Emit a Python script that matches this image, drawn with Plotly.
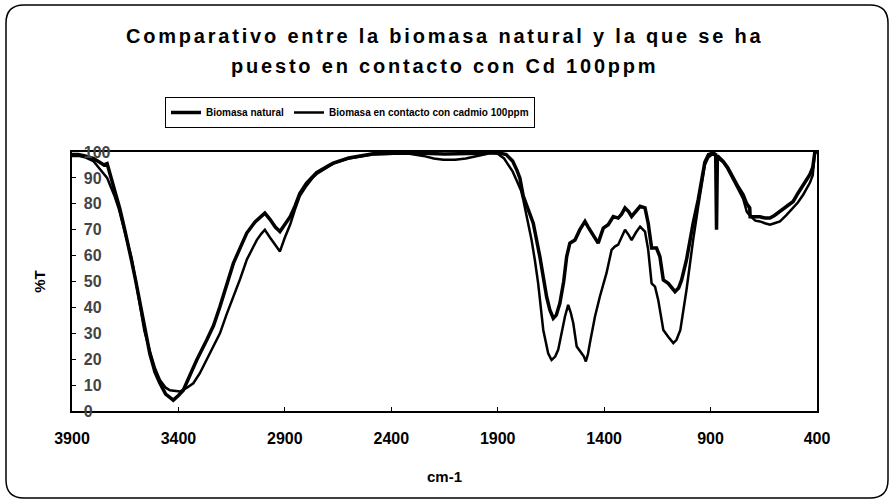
import plotly.graph_objects as go

# ---------------- data ----------------
wn_natural = [3900, 3870, 3840, 3800, 3770, 3750, 3735, 3715, 3695, 3675, 3655, 3640, 3620, 3600,
              3581, 3560, 3534, 3510, 3487, 3460, 3440, 3424, 3400, 3377, 3345, 3314, 3267, 3235,
              3205, 3175, 3142, 3110, 3079, 3040, 3010, 2994, 2970, 2945, 2923, 2900, 2875, 2853,
              2830, 2798, 2770, 2751, 2700, 2673, 2600, 2547, 2486, 2391, 2328, 2250, 2150, 2050,
              1980, 1937, 1900, 1860, 1830, 1810, 1796, 1780, 1755, 1733, 1702, 1686, 1670, 1655,
              1639, 1625, 1608, 1590, 1576, 1561, 1537, 1514, 1490, 1475, 1459, 1440, 1428, 1415,
              1404, 1381, 1357, 1334, 1318, 1302, 1285, 1271, 1250, 1231, 1208, 1193, 1177, 1154,
              1138, 1122, 1099, 1080, 1067, 1050, 1036, 1013, 997, 982, 958, 940, 927, 910, 888,
              876, 872, 868, 841, 820, 794, 770, 747, 730, 716, 714, 690, 668, 645, 621, 600, 574,
              545, 512, 490, 465, 450, 434, 420, 410, 400]
t_natural = [99, 99, 98.5, 97.5, 96, 95, 95.5, 90, 84, 78, 71, 66, 58, 50,
             42, 32, 22, 15, 10.7, 6.5, 5, 4.2, 6, 8, 14, 19.7, 27.4, 33,
             40.3, 48, 57, 63, 68.7, 73, 75.5, 76.4, 74, 71, 69.3, 72, 75, 79,
             84, 88, 90.5, 92, 94.5, 95.7, 97.7, 98.5, 99.3, 99.5, 99.6, 99.5, 99.2, 99.3,
             99.5, 99.8, 99.8, 99, 96.5, 93, 90, 83, 77, 72.5, 59.6, 52, 44, 39,
             35.8, 37, 41.6, 50, 59.6, 64.8, 66, 70, 73.2, 71, 68.7, 66, 64.8, 68,
             70.6, 71.9, 75.1, 74.5, 76, 78.4, 77, 75.1, 77, 79, 78.4, 72.5, 62.9, 62.9,
             59.6, 50.6, 49.3, 47.5, 46.1, 47.5, 50.6, 58.4, 66, 72.5, 81.6, 90, 96, 99, 99.6,
             99, 70, 98.5, 96.4, 94, 90, 86.5, 83.5, 80, 78.4, 75, 75, 75, 74.5, 74.5, 75.5, 77,
             79, 80.9, 84, 87.4, 89.5, 91.2, 94, 100, 100]

wn_cadmio = [3900, 3870, 3840, 3800, 3775, 3755, 3735, 3720, 3700, 3680, 3660, 3640, 3620, 3600,
             3581, 3560, 3534, 3510, 3487, 3460, 3440, 3415, 3393, 3360, 3330, 3300, 3267, 3235,
             3205, 3175, 3142, 3110, 3079, 3050, 3032, 3010, 2994, 2970, 2945, 2923, 2900, 2875,
             2853, 2830, 2798, 2770, 2751, 2700, 2673, 2600, 2547, 2486, 2391, 2328, 2250, 2200,
             2156, 2100, 2050, 2000, 1960, 1937, 1900, 1870, 1858, 1830, 1811, 1790, 1780, 1760,
             1741, 1725, 1710, 1686, 1663, 1647, 1630, 1616, 1600, 1584, 1569, 1557, 1545, 1529,
             1506, 1495, 1486, 1476, 1467, 1443, 1420, 1389, 1365, 1350, 1334, 1318, 1302, 1285,
             1271, 1250, 1231, 1208, 1193, 1177, 1161, 1146, 1122, 1099, 1075, 1060, 1042, 1013,
             997, 982, 958, 940, 927, 910, 888, 870, 841, 820, 794, 770, 747, 730, 716, 690, 668,
             645, 621, 600, 574, 545, 512, 490, 465, 450, 434, 420, 410, 400]
t_cadmio = [98.5, 98.5, 98, 96.5, 94, 92, 90, 87, 83, 78, 72, 66, 59, 50,
            41, 31, 23, 16.5, 12, 9, 8, 7.6, 7.5, 9, 10.7, 14.5, 19.7, 25,
            30, 37, 44, 51, 58.4, 63.5, 66, 68.5, 70, 67, 64, 61.6, 67, 72,
            77.7, 83, 87, 90, 91.5, 94, 95.5, 97.5, 98.3, 99, 99.3, 99.5, 98.5, 97.5,
            97, 97, 97.5, 98.3, 99, 99.5, 99.3, 97.5, 96, 92.5, 89, 85, 81.6, 74,
            66, 58, 49.3, 31.3, 22.3, 19.7, 21, 23.6, 30, 36.5, 41, 38, 33.9, 24.9,
            22.3, 21, 19.1, 22, 26.2, 36.5, 44.2, 53.2, 62.2, 63.5, 64.2, 67, 70, 68,
            66, 69, 71.2, 69.3, 62.2, 49.3, 48, 42.9, 31.3, 28.7, 26.2, 27.5, 31.3, 46.8,
            57, 66, 79, 89, 95, 98, 99.3, 98, 96, 93.5, 89.5, 86, 82, 77, 75.5, 73.5, 73.2,
            72.5, 71.9, 72.5, 73.2, 75.5, 78.4, 80.5, 83.5, 85.5, 88, 91, 100, 100]

x_ticks = [3900, 3400, 2900, 2400, 1900, 1400, 900, 400]
y_ticks = [0, 10, 20, 30, 40, 50, 60, 70, 80, 90, 100]

series_names = ["Biomasa natural", "Biomasa en contacto con cadmio 100ppm"]
title_lines = ["Comparativo entre la biomasa natural y la que se ha",
               "puesto en contacto con Cd 100ppm"]
x_title = "cm-1"
y_title = "%T"

# ---------------- figure ----------------
W, H = 893, 502
ML, MR, MT, MB = 72, 76, 152, 91
PW, PH = W - ML - MR, H - MT - MB

FONT = "Liberation Sans, Arial, sans-serif"


def spaced(text, px):
    return f'<span style="letter-spacing:{px}px">{text}</span>'


fig = go.Figure()
fig.add_trace(go.Scatter(x=wn_natural, y=t_natural, mode="lines", name=series_names[0],
                         line=dict(color="black", width=3.5)))
fig.add_trace(go.Scatter(x=wn_cadmio, y=t_cadmio, mode="lines", name=series_names[1],
                         line=dict(color="black", width=2.5)))


def px_to_paper_x(px):
    return (px - ML) / PW


def px_to_paper_y(py):
    return (H - MB - py) / PH


# rounded outer border
x0, y0, x1, y1, r = 6, 5, 888, 498, 18
X0, X1 = px_to_paper_x(x0), px_to_paper_x(x1)
Y0, Y1 = px_to_paper_y(y0), px_to_paper_y(y1)
rx, ry = r / PW, r / PH
path = (f"M {X0 + rx},{Y0} L {X1 - rx},{Y0} Q {X1},{Y0} {X1},{Y0 - ry} "
        f"L {X1},{Y1 + ry} Q {X1},{Y1} {X1 - rx},{Y1} "
        f"L {X0 + rx},{Y1} Q {X0},{Y1} {X0},{Y1 + ry} "
        f"L {X0},{Y0 - ry} Q {X0},{Y0} {X0 + rx},{Y0} Z")
fig.add_shape(type="path", path=path, xref="paper", yref="paper",
              line=dict(color="black", width=1.5), layer="below")

# title as two centred lines (wide letter spacing like the scanned original)
for line_text, cy in zip(title_lines, [36, 66]):
    fig.add_annotation(text=spaced(line_text, 2.8), x=0.5, xref="paper", xanchor="center",
                       y=px_to_paper_y(cy), yref="paper", yanchor="middle",
                       showarrow=False,
                       font=dict(size=20, family=FONT, weight="bold", color="black"))

fig.update_layout(
    width=W, height=H,
    margin=dict(l=ML, r=MR, t=MT, b=MB, autoexpand=False),
    paper_bgcolor="white", plot_bgcolor="white",
    font=dict(family=FONT, color="black"),
    showlegend=True,
    legend=dict(orientation="h", x=px_to_paper_x(165), xanchor="left",
                y=px_to_paper_y(97), yanchor="top",
                bordercolor="black", borderwidth=1, bgcolor="white",
                font=dict(size=10, family=FONT, weight="bold", color="black"),
                itemwidth=30, tracegroupgap=0),
    xaxis=dict(range=[3900, 400], tickvals=x_ticks, ticktext=[str(v) for v in x_ticks],
               showgrid=False, zeroline=False, showline=True, linecolor="black", linewidth=2,
               mirror=True, ticks="inside", ticklen=4, tickcolor="black",
               ticklabelstandoff=12, ticklabeloverflow="allow", automargin=False,
               tickfont=dict(size=16, family=FONT, weight="bold"),
               title=dict(text=x_title, standoff=25,
                          font=dict(size=15, family=FONT, weight="bold"))),
    yaxis=dict(range=[0, 100], tickvals=y_ticks,
               showgrid=False, zeroline=False, showline=True, linecolor="black", linewidth=2,
               mirror=True, ticks="inside", ticklen=4, tickcolor="black",
               ticklabelposition="inside", ticklabelstandoff=8, ticklabeloverflow="allow",
               automargin=False,
               tickfont=dict(size=16, family=FONT, weight="bold"),
               title=dict(text=y_title, standoff=35,
                          font=dict(size=15, family=FONT, weight="bold"))),
)

fig.write_html("out.html", config={"displayModeBar": False},
               post_script="document.body.style.margin='0px';")
